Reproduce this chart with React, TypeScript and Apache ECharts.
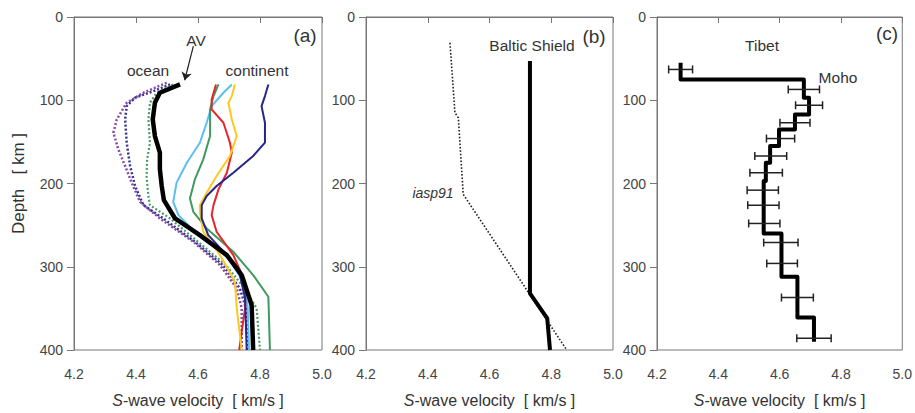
import React, { useEffect, useRef } from "react";
import * as echarts from "echarts";

// ---------- Panel (a): depth (km) and S-wave velocity (km/s) ----------
const avDepth = [81, 91, 103, 123, 143, 163, 183, 203, 220, 242, 262, 286, 310, 346, 400];
const avVel = [4.542, 4.477, 4.461, 4.454, 4.461, 4.477, 4.477, 4.483, 4.49, 4.526, 4.606, 4.693, 4.741, 4.773, 4.778];

const oceanPurpleDepth = [79, 91, 103, 123, 139, 159, 179, 199, 222, 242, 270, 298, 326, 350, 400];
const oceanPurpleVel = [4.499, 4.424, 4.37, 4.338, 4.327, 4.343, 4.365, 4.386, 4.413, 4.477, 4.585, 4.671, 4.725, 4.741, 4.741];

const oceanNavyDepth = [81, 89, 97, 107, 123, 151, 179, 203, 226, 242, 270, 298, 326, 350, 400];
const oceanNavyVel = [4.51, 4.456, 4.397, 4.37, 4.365, 4.37, 4.381, 4.397, 4.424, 4.488, 4.59, 4.68, 4.735, 4.755, 4.76];

const oceanGreenDepth = [81, 91, 103, 123, 151, 171, 191, 215, 226, 242, 270, 298, 326, 350, 400];
const oceanGreenVel = [4.52, 4.467, 4.445, 4.44, 4.445, 4.436, 4.434, 4.44, 4.445, 4.51, 4.6, 4.69, 4.75, 4.789, 4.8];

const contLightBlueDepth = [81, 91, 107, 127, 151, 175, 199, 222, 238, 262, 290, 318, 346, 400];
const contLightBlueVel = [4.709, 4.682, 4.644, 4.628, 4.606, 4.564, 4.531, 4.52, 4.537, 4.6, 4.7, 4.745, 4.76, 4.765];

const contGreenDepth = [81, 95, 111, 143, 171, 195, 218, 234, 254, 282, 310, 336, 400];
const contGreenVel = [4.666, 4.65, 4.639, 4.639, 4.617, 4.59, 4.574, 4.585, 4.628, 4.714, 4.778, 4.827, 4.832];

const contRedDepth = [81, 99, 111, 127, 151, 163, 187, 207, 226, 238, 258, 286, 318, 350, 378, 400];
const contRedVel = [4.658, 4.644, 4.644, 4.682, 4.703, 4.709, 4.693, 4.666, 4.65, 4.644, 4.66, 4.714, 4.752, 4.752, 4.741, 4.733];

const contYellowDepth = [81, 95, 103, 123, 143, 167, 191, 211, 226, 234, 258, 286, 318, 350, 400];
const contYellowVel = [4.719, 4.709, 4.698, 4.709, 4.725, 4.703, 4.66, 4.628, 4.606, 4.606, 4.617, 4.671, 4.719, 4.725, 4.741];

const contNavyDepth = [81, 95, 107, 127, 151, 167, 187, 203, 215, 226, 242, 262, 286, 310, 338, 400];
const contNavyVel = [4.827, 4.816, 4.805, 4.816, 4.816, 4.778, 4.714, 4.66, 4.628, 4.612, 4.612, 4.633, 4.693, 4.735, 4.752, 4.757];

// AV arrow (from label to curve) in data coordinates [velocity, depth]
const avArrowFrom = [4.585, 35];
const avArrowTo = [4.557, 76];

// ---------- Panel (b) ----------
const balticDepth = [53, 332, 362, 400];
const balticVel = [4.731, 4.731, 4.787, 4.796];

const iaspDepth = [31, 115, 121, 213, 400];
const iaspVel = [4.472, 4.488, 4.499, 4.515, 4.85];

// ---------- Panel (c): Tibet layered model ----------
const tibetBounds = [55, 75, 97, 117, 135, 155, 175, 197, 260, 312, 361, 390];
const tibetVel = [4.277, 4.679, 4.696, 4.65, 4.598, 4.569, 4.555, 4.548, 4.606, 4.658, 4.712];

const errDepth = [63, 87, 106, 127, 146, 167, 187, 208, 226, 248, 271, 296, 337, 386];
const errVel = [4.277, 4.679, 4.696, 4.65, 4.603, 4.571, 4.556, 4.545, 4.547, 4.55, 4.604, 4.608, 4.658, 4.712];
const errHalf = [0.039, 0.051, 0.044, 0.049, 0.046, 0.052, 0.053, 0.051, 0.051, 0.051, 0.056, 0.05, 0.052, 0.056];

// ---------- Axes ----------
const velTicks = ["4.2", "4.4", "4.6", "4.8", "5.0"];
const depthTicks = ["0", "100", "200", "300", "400"];

const FONT = "Liberation Sans, Arial, Helvetica, sans-serif";
const TEXT = "#333";
const AXIS = "#777";

const pairs = (v: number[], d: number[]) => v.map((x, i) => [x, d[i]]);

function stepPoints(bounds: number[], vel: number[]) {
  const pts: number[][] = [];
  vel.forEach((v, i) => {
    pts.push([v, bounds[i]]);
    pts.push([v, bounds[i + 1]]);
  });
  return pts;
}

const grids = [
  { left: 74, top: 17, width: 248, height: 335 },
  { left: 366, top: 17, width: 247, height: 335 },
  { left: 657, top: 17, width: 247, height: 335 },
];

function makeXAxis(i: number) {
  return {
    gridIndex: i,
    type: "value",
    min: 4.2,
    max: 5.0,
    interval: 0.2,
    name: "{i|S}-wave velocity  [ km/s ]",
    nameLocation: "middle",
    nameGap: 42,
    nameTextStyle: {
      fontSize: 16,
      color: TEXT,
      fontFamily: FONT,
      rich: {
        i: { fontStyle: "italic", fontSize: 16, color: TEXT, fontFamily: FONT },
      },
    },
    axisLine: { show: true, lineStyle: { color: AXIS, width: 1 } },
    axisTick: { show: true, inside: false, length: 6, lineStyle: { color: AXIS } },
    axisLabel: {
      fontSize: 14,
      color: "#444",
      fontFamily: FONT,
      margin: 17,
      formatter: (v: number) => {
        const idx = Math.round((v - 4.2) / 0.2);
        return velTicks[idx] ?? v.toFixed(1);
      },
    },
    splitLine: { show: false },
  };
}

function makeYAxis(i: number) {
  return {
    gridIndex: i,
    type: "value",
    inverse: true,
    min: 0,
    max: 400,
    interval: 100,
    name: i === 0 ? "Depth   [ km ]" : "",
    nameLocation: "middle",
    nameGap: 47,
    nameTextStyle: { fontSize: 17, color: TEXT, fontFamily: FONT },
    axisLine: { show: true, lineStyle: { color: AXIS, width: 1 } },
    axisTick: { show: true, inside: false, length: 7, lineStyle: { color: AXIS } },
    axisLabel: {
      fontSize: 14,
      color: "#444",
      fontFamily: FONT,
      margin: 11,
      formatter: (v: number) => depthTicks[Math.round(v / 100)] ?? String(v),
    },
    splitLine: { show: false },
  };
}

function lineSeries(
  name: string,
  data: number[][],
  color: string,
  width: number,
  type: any,
  gi: number,
  z = 2
) {
  return {
    name,
    type: "line",
    xAxisIndex: gi,
    yAxisIndex: gi,
    data,
    showSymbol: false,
    symbol: "none",
    z,
    lineStyle: { color, width, type, cap: "butt", join: "round" },
    silent: true,
  };
}

function txt(x: number, y: number, text: string, size = 15.5, style: any = {}) {
  return {
    type: "text",
    x,
    y,
    style: {
      text,
      fill: TEXT,
      font: `${style.italic ? "italic " : ""}${size}px ${FONT}`,
      textAlign: "center",
      textVerticalAlign: "middle",
      align: "center",
      verticalAlign: "middle",
    },
    silent: true,
  };
}

export default function App() {
  const ref = useRef<HTMLDivElement>(null);

  useEffect(() => {
    if (!ref.current) return;
    const chart = echarts.init(ref.current, null, { renderer: "svg" });

    const errData = errVel.map((v, i) => [v, errDepth[i], errHalf[i]]);

    const option: any = {
      animation: false,
      backgroundColor: "#fff",
      grid: grids.map((g) => ({
        ...g,
        show: true,
        borderColor: AXIS,
        borderWidth: 1,
        backgroundColor: "transparent",
        containLabel: false,
      })),
      xAxis: [0, 1, 2].map(makeXAxis),
      yAxis: [0, 1, 2].map(makeYAxis),
      series: [
        // ocean (dotted)
        lineSeries("ocean-purple", pairs(oceanPurpleVel, oceanPurpleDepth), "#8b4aa8", 2.5, [2, 2], 0),
        lineSeries("ocean-navy", pairs(oceanNavyVel, oceanNavyDepth), "#35358f", 2.5, [2, 2], 0),
        lineSeries("ocean-green", pairs(oceanGreenVel, oceanGreenDepth), "#4a9a6e", 2.2, [2, 2], 0),
        // continent (solid)
        lineSeries("cont-lightblue", pairs(contLightBlueVel, contLightBlueDepth), "#5cbff0", 2, "solid", 0),
        lineSeries("cont-green", pairs(contGreenVel, contGreenDepth), "#3f9a5e", 2, "solid", 0),
        lineSeries("cont-red", pairs(contRedVel, contRedDepth), "#e5262b", 2, "solid", 0),
        lineSeries("cont-yellow", pairs(contYellowVel, contYellowDepth), "#ffc81e", 2, "solid", 0),
        lineSeries("cont-navy", pairs(contNavyVel, contNavyDepth), "#25258c", 2, "solid", 0),
        // average
        lineSeries("AV", pairs(avVel, avDepth), "#000", 4.5, "solid", 0, 5),
        {
          type: "lines",
          coordinateSystem: "cartesian2d",
          xAxisIndex: 0,
          yAxisIndex: 0,
          symbol: ["none", "arrow"],
          symbolSize: 8,
          lineStyle: { color: "#222", width: 1.2, opacity: 1 },
          data: [{ coords: [avArrowFrom, avArrowTo] }],
          silent: true,
          z: 6,
        },
        // panel b
        lineSeries("iasp91", pairs(iaspVel, iaspDepth), "#222", 1.6, [1.6, 1.8], 1),
        lineSeries("Baltic Shield", pairs(balticVel, balticDepth), "#000", 4, "solid", 1, 5),
        // panel c
        lineSeries("Tibet", stepPoints(tibetBounds, tibetVel), "#000", 4, "solid", 2, 5),
        {
          type: "custom",
          xAxisIndex: 2,
          yAxisIndex: 2,
          data: errData,
          encode: { x: 0, y: 1 },
          silent: true,
          z: 6,
          renderItem: (params: any, api: any) => {
            const v = api.value(0);
            const d = api.value(1);
            const h = api.value(2);
            const p1 = api.coord([v - h, d]);
            const p2 = api.coord([v + h, d]);
            const cap = 4;
            const st = { stroke: "#222", lineWidth: 1.5 };
            return {
              type: "group",
              children: [
                { type: "line", shape: { x1: p1[0], y1: p1[1], x2: p2[0], y2: p2[1] }, style: st },
                { type: "line", shape: { x1: p1[0], y1: p1[1] - cap, x2: p1[0], y2: p1[1] + cap }, style: st },
                { type: "line", shape: { x1: p2[0], y1: p2[1] - cap, x2: p2[0], y2: p2[1] + cap }, style: st },
              ],
            };
          },
        },
      ],
      graphic: [
        txt(148, 70, "ocean"),
        txt(196, 40, "AV"),
        txt(257, 70, "continent"),
        txt(305, 35, "(a)", 19),
        txt(532, 45, "Baltic Shield"),
        txt(594, 36, "(b)", 19),
        txt(433, 193, "iasp91", 14, { italic: true }),
        txt(762, 45, "Tibet"),
        txt(838, 77, "Moho"),
        txt(887, 33, "(c)", 19),
      ],
    };

    chart.setOption(option);
    return () => chart.dispose();
  }, []);

  return (
    <div
      ref={ref}
      style={{ position: "fixed", left: 0, top: 0, width: 915, height: 413, background: "#fff" }}
    />
  );
}
